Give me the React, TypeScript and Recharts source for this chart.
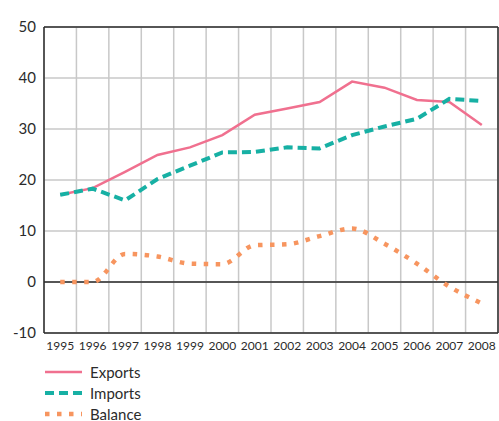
import React from 'react';
import {
  LineChart,
  Line,
  XAxis,
  YAxis,
  CartesianGrid,
  ReferenceLine,
  Legend
} from 'recharts';

const years = [1995, 1996, 1997, 1998, 1999, 2000, 2001, 2002, 2003, 2004, 2005, 2006, 2007, 2008];
const exportsValues = [17.1, 18.4, 21.6, 24.9, 26.4, 28.8, 32.8, 34.0, 35.3, 39.3, 38.1, 35.7, 35.3, 30.8];
const importsValues = [17.1, 18.3, 16.0, 20.2, 22.8, 25.4, 25.5, 26.4, 26.2, 28.8, 30.5, 32.0, 35.9, 35.5];
const balanceValues = [0, 0, 5.5, 5.0, 3.6, 3.5, 7.2, 7.4, 9.0, 10.5, 7.5, 3.6, -0.9, -4.2];
const yTicks = [-10, 0, 10, 20, 30, 40, 50];

const data = years.map((year, i) => ({
  year,
  Exports: exportsValues[i],
  Imports: importsValues[i],
  Balance: balanceValues[i]
}));

const FONT = 'Lato, "Open Sans", sans-serif';
const INK = '#2b2b2b';
const GRID = '#c8c8c8';

const SERIES = [
  { key: 'Exports', color: '#f0708f', width: 2.5, dash: undefined as string | undefined },
  { key: 'Imports', color: '#17b0a4', width: 4, dash: '9 5' },
  { key: 'Balance', color: '#f7955f', width: 4.5, dash: '4.5 7.5' }
];

// vertical grid lines sit between the years (band edges)
const bandEdges = (props: any) => {
  const { xAxis, offset } = props;
  const scale = xAxis && typeof xAxis.scale === 'function' ? xAxis.scale : null;
  const edges: number[] = [];
  for (let i = 0; i <= years.length; i++) {
    const v = years[0] - 0.5 + i;
    edges.push(scale ? scale(v) : offset.left + (offset.width * i) / years.length);
  }
  return edges;
};

const LegendContent = () => (
  <div style={{ fontFamily: FONT, fontSize: 15, color: INK, lineHeight: '18px' }}>
    {SERIES.map((s) => (
      <div key={s.key} style={{ display: 'flex', alignItems: 'center', height: 21 }}>
        <svg width={40} height={8} style={{ marginRight: 6 }}>
          <line
            x1={1}
            x2={38}
            y1={4}
            y2={4}
            stroke={s.color}
            strokeWidth={s.width}
            strokeDasharray={s.dash}
          />
        </svg>
        <span>{s.key}</span>
      </div>
    ))}
  </div>
);

export default function App() {
  return (
    <div style={{ position: 'absolute', left: 0, top: 0, background: '#fff' }}>
      <LineChart
        width={499}
        height={421}
        data={data}
        margin={{ top: 27, right: 1, left: 0, bottom: 0 }}
      >
        <CartesianGrid
          stroke={GRID}
          strokeWidth={1.5}
          verticalCoordinatesGenerator={bandEdges}
        />
        <XAxis
          dataKey="year"
          type="number"
          domain={[years[0] - 0.5, years[years.length - 1] + 0.5]}
          ticks={years}
          interval={0}
          height={25}
          tickLine={false}
          axisLine={{ stroke: INK, strokeWidth: 1.5 }}
          tick={{ fill: INK, fontSize: 12, fontFamily: FONT }}
          tickFormatter={(v) => String(v)}
        />
        <YAxis
          width={44}
          domain={[-10, 50]}
          ticks={yTicks}
          interval={0}
          tickLine={false}
          axisLine={{ stroke: INK, strokeWidth: 1.5 }}
          tick={{ fill: INK, fontSize: 15, fontFamily: FONT }}
        />
        <ReferenceLine y={0} stroke={INK} strokeWidth={1.5} />
        <ReferenceLine y={50} stroke={INK} strokeWidth={1.5} />
        <ReferenceLine x={years[years.length - 1] + 0.5} stroke={INK} strokeWidth={1.5} />
        <Legend
          verticalAlign="bottom"
          align="left"
          height={67}
          content={<LegendContent />}
          wrapperStyle={{ left: 44, top: 361, width: 200, height: 63 }}
        />
        {SERIES.map((s) => (
          <Line
            key={s.key}
            dataKey={s.key}
            type={s.key === 'Balance' ? 'monotone' : 'linear'}
            stroke={s.color}
            strokeWidth={s.width}
            strokeDasharray={s.dash}
            dot={false}
            activeDot={false}
            isAnimationActive={false}
          />
        ))}
      </LineChart>
    </div>
  );
}
